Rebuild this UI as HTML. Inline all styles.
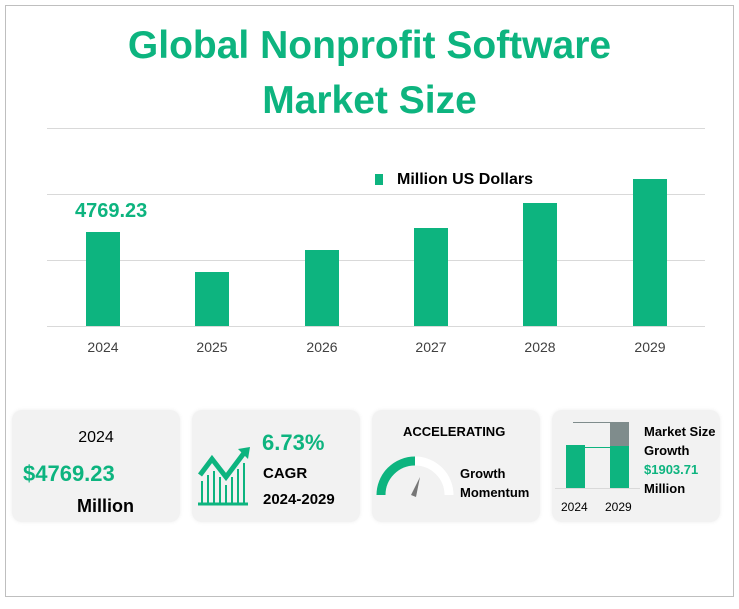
<!DOCTYPE html>
<html><head><style>
body{margin:0;width:739px;height:609px;background:#fff;font-family:"Liberation Sans",sans-serif;position:relative;overflow:hidden}
.a{position:absolute}
.card{position:absolute;top:410px;width:168px;height:112px;background:#f2f2f2;border-radius:10px;box-shadow:0 0 4px #eee}
.b{position:absolute;background:#0db47f;width:34px}
.g{position:absolute;left:47px;width:658px;height:1px;background:#d9d9d9}
.yl{position:absolute;top:339px;font-size:14px;color:#404040;width:60px;text-align:center}
</style></head><body>
<div class="a" style="left:5px;top:5px;width:727px;height:590px;border:1px solid #bfbfbf"></div>
<div class="a" style="left:0;top:18px;width:739px;text-align:center;font-size:39px;font-weight:bold;color:#0db47f;line-height:55px">Global Nonprofit Software<br>Market Size</div>
<div class="g" style="top:128px"></div><div class="g" style="top:194px"></div><div class="g" style="top:260px"></div><div class="g" style="top:326px"></div>
<div class="b" style="left:86px;top:232px;height:94px"></div>
<div class="b" style="left:195px;top:272px;height:54px"></div>
<div class="b" style="left:305px;top:250px;height:76px"></div>
<div class="b" style="left:414px;top:228px;height:98px"></div>
<div class="b" style="left:523px;top:203px;height:123px"></div>
<div class="b" style="left:633px;top:179px;height:147px"></div>
<div class="yl" style="left:73px">2024</div><div class="yl" style="left:182px">2025</div><div class="yl" style="left:292px">2026</div><div class="yl" style="left:401px">2027</div><div class="yl" style="left:510px">2028</div><div class="yl" style="left:620px">2029</div>
<div class="a" style="left:75px;top:200px;font-size:20px;font-weight:bold;color:#0db47f">4769.23</div>
<div class="a" style="left:375px;top:174px;width:8px;height:11px;background:#0db47f"></div>
<div class="a" style="left:397px;top:171px;font-size:16px;font-weight:bold;color:#000">Million US Dollars</div>

<div class="card" style="left:12px"></div>
<div class="a" style="left:12px;top:429px;width:168px;text-align:center;font-size:16px">2024</div>
<div class="a" style="left:23px;top:461px;font-size:22px;font-weight:bold;color:#0db47f">$4769.23</div>
<div class="a" style="left:77px;top:496px;font-size:18px;font-weight:bold">Million</div>

<div class="card" style="left:192px"></div>
<svg class="a" style="left:196px;top:445px" width="60" height="65"><polyline points="4,30 16,14 30,32 48,8" fill="none" stroke="#0db47f" stroke-width="5"/><polygon points="42,4 54,2 52,14" fill="#0db47f"/><g stroke="#0db47f" stroke-width="2"><line x1="6" y1="36" x2="6" y2="58"/><line x1="12" y1="30" x2="12" y2="58"/><line x1="18" y1="26" x2="18" y2="58"/><line x1="24" y1="32" x2="24" y2="58"/><line x1="30" y1="40" x2="30" y2="58"/><line x1="36" y1="32" x2="36" y2="58"/><line x1="42" y1="24" x2="42" y2="58"/><line x1="48" y1="18" x2="48" y2="58"/></g><line x1="2" y1="59" x2="52" y2="59" stroke="#0db47f" stroke-width="3"/></svg>
<div class="a" style="left:262px;top:430px;font-size:22px;font-weight:bold;color:#0db47f">6.73%</div>
<div class="a" style="left:263px;top:465px;font-size:15px;font-weight:bold">CAGR</div>
<div class="a" style="left:263px;top:491px;font-size:15px;font-weight:bold">2024-2029</div>

<div class="card" style="left:372px"></div>
<div class="a" style="left:403px;top:424px;font-size:13px;font-weight:bold">ACCELERATING</div>
<svg class="a" style="left:373px;top:455px" width="85" height="45"><path d="M8,40 A34,34 0 0 1 76,40" fill="none" stroke="#fff" stroke-width="9"/><path d="M8,40 A34,34 0 0 1 42,6" fill="none" stroke="#0db47f" stroke-width="9"/><polygon points="47,22 43,42 38,40" fill="#777"/></svg>
<div class="a" style="left:460px;top:464px;font-size:13px;font-weight:bold;line-height:19px">Growth<br>Momentum</div>

<div class="card" style="left:552px"></div>
<div class="a" style="left:573px;top:422px;width:56px;height:1px;background:#7f8c8c"></div>
<div class="a" style="left:610px;top:422px;width:19px;height:25px;background:#7f8c8c"></div>
<div class="a" style="left:566px;top:445px;width:19px;height:43px;background:#0db47f"></div>
<div class="a" style="left:610px;top:446px;width:19px;height:42px;background:#0db47f"></div>
<div class="a" style="left:585px;top:447px;width:25px;height:1px;background:#0db47f"></div>
<div class="a" style="left:555px;top:488px;width:85px;height:1px;background:#d9d9d9"></div>
<div class="a" style="left:561px;top:500px;font-size:12px">2024</div>
<div class="a" style="left:605px;top:500px;font-size:12px">2029</div>
<div class="a" style="left:644px;top:422px;font-size:13px;font-weight:bold;line-height:19px">Market Size<br>Growth<br><span style="color:#0db47f">$1903.71</span><br>Million</div>
</body></html>
